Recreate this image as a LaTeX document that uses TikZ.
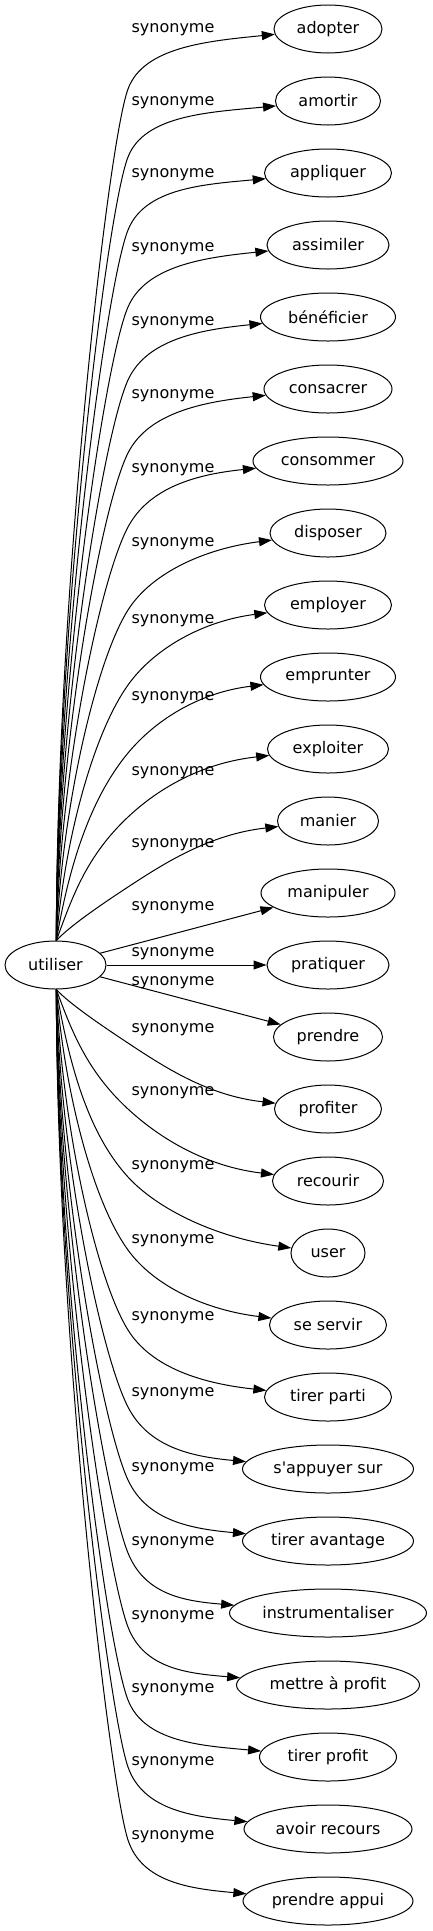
\documentclass[tikz,border=0pt]{standalone}
\usepackage{fontspec}
\setmainfont{DejaVu Sans}
\usetikzlibrary{arrows.meta, shapes.geometric}
\tikzset{
  word/.style  = {ellipse, draw, line width=1pt, minimum height=48pt, inner sep=0pt,
                  font=\fontsize{16}{19}\selectfont},
  head/.style  = {word, minimum width=101pt},
  syn/.style   = {-{Triangle[length=13pt, width=9pt]}, line width=1pt},
  slab/.style  = {font=\fontsize{16}{19}\selectfont, inner sep=0pt},
}

\begin{document}
\begin{tikzpicture}[x=1pt, y=-1pt]
  \useasboundingbox (0,0) rectangle (432,1931);
  \node[head] (utiliser) at (55.5,965) {utiliser};
  % one row every 72pt, label sits left of the arrow
  \foreach \i/\nm/\txt/\w/\ly in {
      0/adopter/adopter/108/30, 1/amortir/amortir/105/103,
      2/appliquer/appliquer/127/175, 3/assimiler/assimiler/122/249,
      4/beneficier/bénéficier/135/323, 5/consacrer/consacrer/128/396,
      6/consommer/consommer/150/470, 7/disposer/disposer/116/544,
      8/employer/employer/127/621, 9/emprunter/emprunter/135/698,
      10/exploiter/exploiter/121/773, 11/manier/manier/101/845,
      12/manipuler/manipuler/134/908, 13/pratiquer/pratiquer/122/954,
      14/prendre/prendre/109/983, 15/profiter/profiter/107/1030,
      16/recourir/recourir/111/1093, 17/user/user/74/1167,
      18/seservir/se servir/117/1241, 19/tirerparti/tirer parti/127/1318,
      20/sappuyer/s\textquotesingle appuyer sur/171/1394,
      21/tireravantage/tirer avantage/171/1469,
      22/instrumentaliser/instrumentaliser/197/1543,
      23/mettre/mettre à profit/183/1617, 24/tirerprofit/tirer profit/137/1690,
      25/avoirrecours/avoir recours/168/1763, 26/prendreappui/prendre appui/170/1837}{
    \node[word, minimum width=\w pt] (\nm) at (328,29+72*\i) {\txt};
    \node[slab] (l\nm) at (173,\ly) {synonyme};
  }
  % the three middle rows are straight
  \draw[syn] (utiliser) -- (manipuler);
  \draw[syn] (utiliser) -- (pratiquer);
  \draw[syn] (utiliser) -- (prendre);
  % the rest leave the head up or down and bend near x=128
  \foreach \i/\nm/\w/\bend in {
      0/adopter/108/60, 1/amortir/105/56, 2/appliquer/127/57, 3/assimiler/122/62,
      4/beneficier/135/63, 5/consacrer/128/64, 6/consommer/150/66, 7/disposer/116/77,
      8/employer/127/80, 9/emprunter/135/76, 10/exploiter/121/68, 11/manier/101/66,
      15/profiter/107/66, 16/recourir/111/72, 17/user/74/76, 18/seservir/117/75,
      19/tirerparti/127/67, 20/sappuyer/171/62, 21/tireravantage/171/61,
      22/instrumentaliser/197/60, 23/mettre/183/58, 24/tirerprofit/137/57,
      25/avoirrecours/168/62, 26/prendreappui/170/61}{
    \pgfmathsetmacro\ey{29+72*\i}
    \pgfmathsetmacro\es{\ey<965 ? 1 : -1}
    \pgfmathsetmacro\ed{abs(965-\ey)}
    \pgfmathtruncatemacro\eang{\es>0 ? 88 : 272}
    \pgfmathsetmacro\ephi{90-40*exp(-(\ed-144)/100)}
    \pgfmathsetmacro\esy{965-23*(\es)}
    \pgfmathsetmacro\eby{\ey+(\es)*\bend}
    \pgfmathsetmacro\elen{(\es)*(\esy-\eby)}
    \pgfmathsetmacro\exw{328-\w/2}
    \pgfmathsetmacro\eslope{((\es)*(\esy-\ey)/(\exw-57))^0.7}
    \pgfmathsetmacro\etx{1/sqrt(1+\eslope*\eslope)}
    \pgfmathsetmacro\ety{-(\es)*\eslope*\etx}
    \pgfmathsetmacro\eal{min(60,0.45*\elen)}
    \pgfmathsetmacro\cax{56.3+0.4*\elen*cos(\ephi)}
    \pgfmathsetmacro\cay{\esy-(\es)*0.4*\elen*sin(\ephi)}
    \pgfmathsetmacro\cbx{128-\eal*\etx}
    \pgfmathsetmacro\cby{\eby-\eal*(\ety)}
    \pgfmathsetmacro\ccx{128+45*\etx}
    \pgfmathsetmacro\ccy{\eby+45*(\ety)}
    \pgfmathsetmacro\cdx{0.55*\exw+57.6}
    \pgfmathsetmacro\cdy{\ey+(\es)*0.2*\bend}
    \draw[syn] (utiliser.\eang) .. controls (\cax,\cay) and (\cbx,\cby) .. (128,\eby)
      .. controls (\ccx,\ccy) and (\cdx,\cdy) .. (\nm);
  }
\end{tikzpicture}
\end{document}
